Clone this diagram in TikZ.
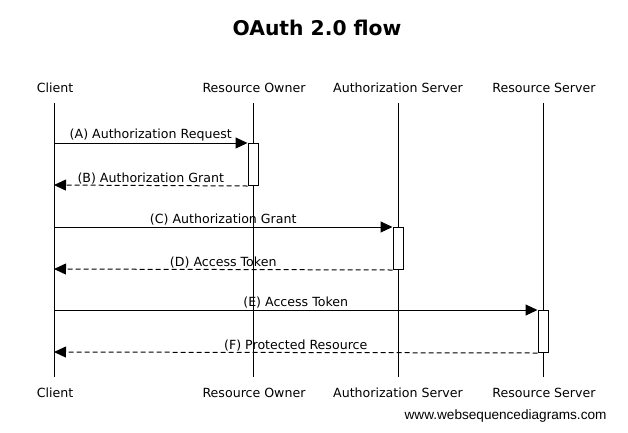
\documentclass[tikz,border=0pt]{standalone}
\usepackage{fontspec}
\setmainfont{DejaVu Sans}
\newfontfamily\wsdfont{Liberation Sans}
\usetikzlibrary{arrows.meta}
\usetikzlibrary{positioning}

\tikzset{
  actor/.style={font=\fontsize{12.6}{14}\selectfont, inner sep=0pt},
  lifeline/.style={line width=1pt},
  actbox/.style={draw, line width=1pt, fill=white, minimum width=10pt, minimum height=42pt, inner sep=0pt},
  msg/.style={line width=1pt, -{Triangle[length=12pt,width=11pt]}},
  reply/.style={msg, dash pattern=on 5pt off 3pt},
  msglabel/.style={font=\fontsize{12.6}{14}\selectfont, inner sep=0pt, above=1pt}
}

\begin{document}
\begin{tikzpicture}[x=1pt,y=-1pt]
\useasboundingbox (0,0) rectangle (628,432);
\node[font=\bfseries\fontsize{20.3}{24}\selectfont] (title) at (317,28) {OAuth 2.0 flow};
% participants, top and bottom
\node[actor] (clientT) at (55,88) {Client};
\node[actor] (ownerT) at (254,88) {Resource Owner};
\node[actor] (authT) at (398,88) {Authorization Server};
\node[actor] (resT) at (544,88) {Resource Server};
\node[actor] (clientB) at (55,393) {Client};
\node[actor] (ownerB) at (254,393) {Resource Owner};
\node[actor] (authB) at (398,393) {Authorization Server};
\node[actor] (resB) at (544,393) {Resource Server};
% lifelines
\foreach \p/\x in {client/54,owner/253,auth/398,res/543}{
  \coordinate (\p top) at (\x,103);
  \coordinate (\p bot) at (\x,377);
  \draw[lifeline] (\p top) -- (\p bot);
}
% activations
\node[actbox, anchor=north] (ownerAct) at (253,143) {};
\node[actbox, anchor=north] (authAct) at (398,227) {};
\node[actbox, anchor=north] (resAct) at (543,310) {};
\coordinate (cA) at (54,143);
\coordinate (cB) at (54,185);
\coordinate (cC) at (54,227);
\coordinate (cD) at (54,269);
\coordinate (cE) at (54,310);
\coordinate (cF) at (54,352);
% messages
\draw[msg] (cA) -- (ownerAct.north west) node[msglabel, midway] {(A) Authorization Request};
\draw[reply] (ownerAct.south west) -- (cB) node[msglabel, midway] {(B) Authorization Grant};
\draw[msg] (cC) -- (authAct.north west) node[msglabel, midway] {(C) Authorization Grant};
\draw[reply] (authAct.south west) -- (cD) node[msglabel, midway] {(D) Access Token};
\draw[msg] (cE) -- (resAct.north west) node[msglabel, midway] {(E) Access Token};
\draw[reply] (resAct.south west) -- (cF) node[msglabel, midway] {(F) Protected Resource};
\node[font=\wsdfont\fontsize{13.6}{16}\selectfont, anchor=east] (credit) at (610,416) {www.websequencediagrams.com};
\end{tikzpicture}
\end{document}
